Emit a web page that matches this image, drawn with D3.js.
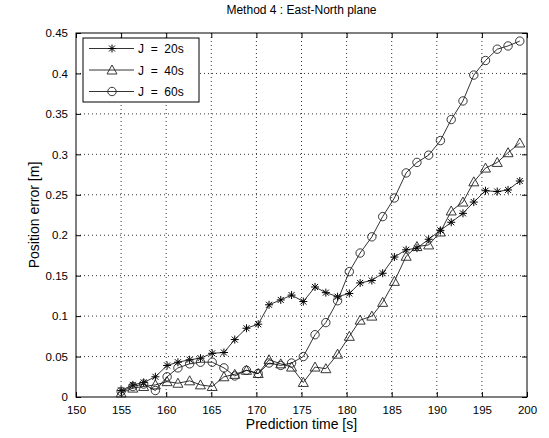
<!DOCTYPE html>
<html>
<head>
<meta charset="utf-8">
<script src="https://cdn.jsdelivr.net/npm/d3@7"></script>
<style>
  body { margin: 0; background: #fff; }
  svg text { font-family: "Liberation Sans", Arial, sans-serif; fill: #000; }
</style>
</head>
<body>
<div id="graph"></div>
<script>
// prediction times (s), shared by all three curves
var times = [155.0, 156.3, 157.5, 158.8, 160.1, 161.3, 162.6, 163.8, 165.1, 166.4,
             167.6, 168.9, 170.2, 171.4, 172.7, 173.9, 175.2, 176.5, 177.7, 179.0,
             180.3, 181.5, 182.8, 184.0, 185.3, 186.6, 187.8, 189.1, 190.4, 191.6,
             192.9, 194.1, 195.4, 196.7, 197.9, 199.2];

var err20 = [0.008, 0.015, 0.018, 0.025, 0.039, 0.043, 0.046, 0.048, 0.054, 0.055,
             0.071, 0.085, 0.090, 0.114, 0.120, 0.126, 0.118, 0.136, 0.129, 0.124,
             0.128, 0.141, 0.144, 0.153, 0.173, 0.182, 0.184, 0.195, 0.206, 0.216,
             0.227, 0.241, 0.255, 0.254, 0.256, 0.267];

var err40 = [0.005, 0.011, 0.013, 0.015, 0.019, 0.017, 0.020, 0.015, 0.013, 0.025,
             0.028, 0.033, 0.029, 0.046, 0.041, 0.037, 0.018, 0.037, 0.035, 0.053,
             0.075, 0.095, 0.100, 0.117, 0.143, 0.174, 0.186, 0.188, 0.204, 0.230,
             0.241, 0.266, 0.283, 0.290, 0.302, 0.314];

var err60 = [0.007, 0.013, 0.016, 0.008, 0.025, 0.036, 0.041, 0.043, 0.043, 0.036,
             0.026, 0.033, 0.029, 0.042, 0.039, 0.042, 0.050, 0.077, 0.092, 0.119,
             0.155, 0.178, 0.198, 0.223, 0.246, 0.277, 0.290, 0.299, 0.317, 0.343,
             0.366, 0.398, 0.416, 0.430, 0.434, 0.440];

var seriesNames = ["J  =  20s", "J  =  40s", "J  =  60s"];
var markers = ["star", "triangle", "circle"];
var xTicks = [150, 155, 160, 165, 170, 175, 180, 185, 190, 195, 200];
var yTicks = [0, 0.05, 0.1, 0.15, 0.2, 0.25, 0.3, 0.35, 0.4, 0.45];

var width = 549, height = 438;
var pLeft = 76, pRight = 527, pTop = 33, pBottom = 397;

var svg = d3.select("#graph").append("svg")
    .attr("width", width)
    .attr("height", height);

var xScale = d3.scaleLinear().domain([150, 200]).range([pLeft, pRight]);
var yScale = d3.scaleLinear().domain([0, 0.45]).range([pBottom, pTop]);

// dotted grid
svg.append("g").selectAll("line")
    .data(xTicks.slice(1, -1))
    .enter().append("line")
    .attr("x1", function(d) { return xScale(d); })
    .attr("x2", function(d) { return xScale(d); })
    .attr("y1", pTop).attr("y2", pBottom)
    .attr("stroke", "#000").attr("stroke-width", 0.8)
    .attr("stroke-dasharray", "1,3");

svg.append("g").selectAll("line")
    .data(yTicks.slice(1, -1))
    .enter().append("line")
    .attr("y1", function(d) { return yScale(d); })
    .attr("y2", function(d) { return yScale(d); })
    .attr("x1", pLeft).attr("x2", pRight)
    .attr("stroke", "#000").attr("stroke-width", 0.8)
    .attr("stroke-dasharray", "1,3");

// axes, ticks pointing inward like matlab
function styleAxis(g) {
  g.select(".domain").remove();
  g.selectAll("line").attr("stroke", "#000");
  g.selectAll("text").attr("font-size", "11.5px").attr("fill", "#000");
}

svg.append("g")
    .attr("transform", "translate(0," + pBottom + ")")
    .call(d3.axisBottom(xScale).tickValues(xTicks).tickSize(-5).tickPadding(9)
      .tickFormat(d3.format("d")))
    .call(styleAxis);

svg.append("g")
    .attr("transform", "translate(0," + pTop + ")")
    .call(d3.axisTop(xScale).tickValues(xTicks).tickSize(-5).tickFormat(""))
    .call(styleAxis);

svg.append("g")
    .attr("transform", "translate(" + pLeft + ",0)")
    .call(d3.axisLeft(yScale).tickValues(yTicks).tickSize(-5).tickPadding(8)
      .tickFormat(function(d) { return d3.format("")(+d.toFixed(2)); }))
    .call(styleAxis);

svg.append("g")
    .attr("transform", "translate(" + pRight + ",0)")
    .call(d3.axisRight(yScale).tickValues(yTicks).tickSize(-5).tickFormat(""))
    .call(styleAxis);

svg.append("rect")
    .attr("x", pLeft).attr("y", pTop)
    .attr("width", pRight - pLeft).attr("height", pBottom - pTop)
    .attr("fill", "none").attr("stroke", "#000").attr("stroke-width", 1);

// marker drawing
function drawMarker(g, type, x, y) {
  if (type == "star") {
    var s = 4;
    g.append("path")
      .attr("d", "M" + (x - s) + "," + y + "H" + (x + s) +
                 "M" + x + "," + (y - s) + "V" + (y + s) +
                 "M" + (x - 3) + "," + (y - 3) + "L" + (x + 3) + "," + (y + 3) +
                 "M" + (x - 3) + "," + (y + 3) + "L" + (x + 3) + "," + (y - 3))
      .attr("stroke", "#000").attr("stroke-width", 1).attr("fill", "none");
  } else if (type == "triangle") {
    g.append("path")
      .attr("d", "M" + x + "," + (y - 5) + "L" + (x + 5) + "," + (y + 4) +
                 "L" + (x - 5) + "," + (y + 4) + "Z")
      .attr("stroke", "#222").attr("stroke-width", 0.9).attr("fill", "none");
  } else {
    g.append("circle")
      .attr("cx", x).attr("cy", y).attr("r", 4.2)
      .attr("stroke", "#222").attr("stroke-width", 0.9).attr("fill", "none");
  }
}

var allSeries = [err20, err40, err60];
var line = d3.line()
    .x(function(d, i) { return xScale(times[i]); })
    .y(function(d) { return yScale(d); });

allSeries.forEach(function(vals, k) {
  var g = svg.append("g");
  g.append("path")
    .datum(vals)
    .attr("d", line)
    .attr("fill", "none")
    .attr("stroke", "#000")
    .attr("stroke-width", 0.8);
  vals.forEach(function(v, i) {
    drawMarker(g, markers[k], xScale(times[i]), yScale(v));
  });
});

// legend
var legend = svg.append("g");
legend.append("rect")
    .attr("x", 83).attr("y", 38).attr("width", 116).attr("height", 64)
    .attr("fill", "#fff").attr("stroke", "#000").attr("stroke-width", 1);

seriesNames.forEach(function(name, k) {
  var yy = 48.5 + k * 21.5;
  legend.append("line")
    .attr("x1", 89).attr("x2", 134).attr("y1", yy).attr("y2", yy)
    .attr("stroke", "#000").attr("stroke-width", 0.8);
  drawMarker(legend, markers[k], 112, yy);
  legend.append("text")
    .attr("x", 138).attr("y", yy + 4.5)
    .attr("font-size", "12px")
    .style("white-space", "pre")
    .text(name);
});

// titles
svg.append("text")
    .attr("x", (pLeft + pRight) / 2).attr("y", 14)
    .attr("text-anchor", "middle")
    .attr("font-size", "12px")
    .text("Method 4 : East-North plane");

svg.append("text")
    .attr("x", (pLeft + pRight) / 2).attr("y", 429)
    .attr("text-anchor", "middle")
    .attr("font-size", "14px")
    .text("Prediction time [s]");

svg.append("text")
    .attr("transform", "translate(39," + ((pTop + pBottom) / 2) + ") rotate(-90)")
    .attr("text-anchor", "middle")
    .attr("font-size", "14px")
    .text("Position error [m]");
</script>
</body>
</html>
